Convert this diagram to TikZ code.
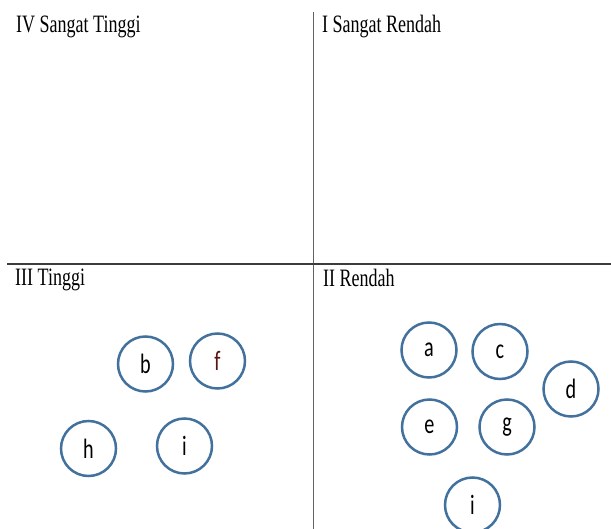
\documentclass[tikz,border=0pt]{standalone}
\usepackage{graphicx}
\usepackage{fontspec}
\setmainfont{Liberation Serif}
\newfontfamily\hurufcirc{Carlito}
\usepackage{tikz}

\definecolor{garisbiru}{RGB}{65,113,156}
\definecolor{garisabu}{RGB}{60,60,60}
\definecolor{merahtua}{RGB}{90,20,20}

\newcommand{\sempit}[1]{\scalebox{0.72}[1]{#1}}

\begin{document}
\begin{tikzpicture}[x=1pt,y=-1pt,
        kuadran/.style={anchor=base west,inner sep=0pt,
            font=\fontsize{25}{30}\selectfont},
        bulat/.style={circle,draw=garisbiru,line width=2.5pt,
            minimum size=55pt,inner sep=0pt,
            font=\hurufcirc\fontsize{28}{34}\selectfont}]
            \useasboundingbox (0,0) rectangle (611,529);

            % sumbu
            \coordinate (atas) at (313.5,12);
            \coordinate (bawah) at (313.5,529);
            \coordinate (kiri) at (7,264);
            \coordinate (kanan) at (611,264);
            \draw[garisabu!80,line width=1.6pt] (atas) -- (bawah);
            \draw[garisabu,line width=1.8pt] (kiri) -- (kanan);

            % label kuadran
            \node[kuadran] (k4) at (16,33) {\sempit{IV Sangat Tinggi}};
            \node[kuadran] (k1) at (322,33) {\sempit{I Sangat Rendah}};
            \node[kuadran] (k3) at (15,286) {\sempit{III Tinggi}};
            \node[kuadran] (k2) at (323,287) {\sempit{II Rendah}};

            % kuadran III
            \node[bulat] (b) at (145.5,364) {\sempit{b}\hspace{8pt}};
            \node[bulat] (f) at (217.5,361) {\color{merahtua}\sempit{f}\hspace{8pt}};
            \node[bulat] (h) at (88.5,448.5) {\sempit{h}\hspace{8pt}};
            \node[bulat] (i1) at (184.5,446) {\sempit{i}\hspace{8pt}};

            % kuadran II
            \node[bulat] (a) at (429,350) {\sempit{a}\hspace{8pt}};
            \node[bulat] (c) at (500,351.5) {\sempit{c}\hspace{8pt}};
            \node[bulat] (d) at (571,389) {\sempit{d}\hspace{8pt}};
            \node[bulat] (e) at (429.5,427) {\sempit{e}\hspace{8pt}};
            \node[bulat] (g) at (507,427) {\sempit{g}\hspace{8pt}};
            \node[bulat] (i2) at (472.5,505) {\sempit{i}\hspace{8pt}};
        \end{tikzpicture}
\end{document}
